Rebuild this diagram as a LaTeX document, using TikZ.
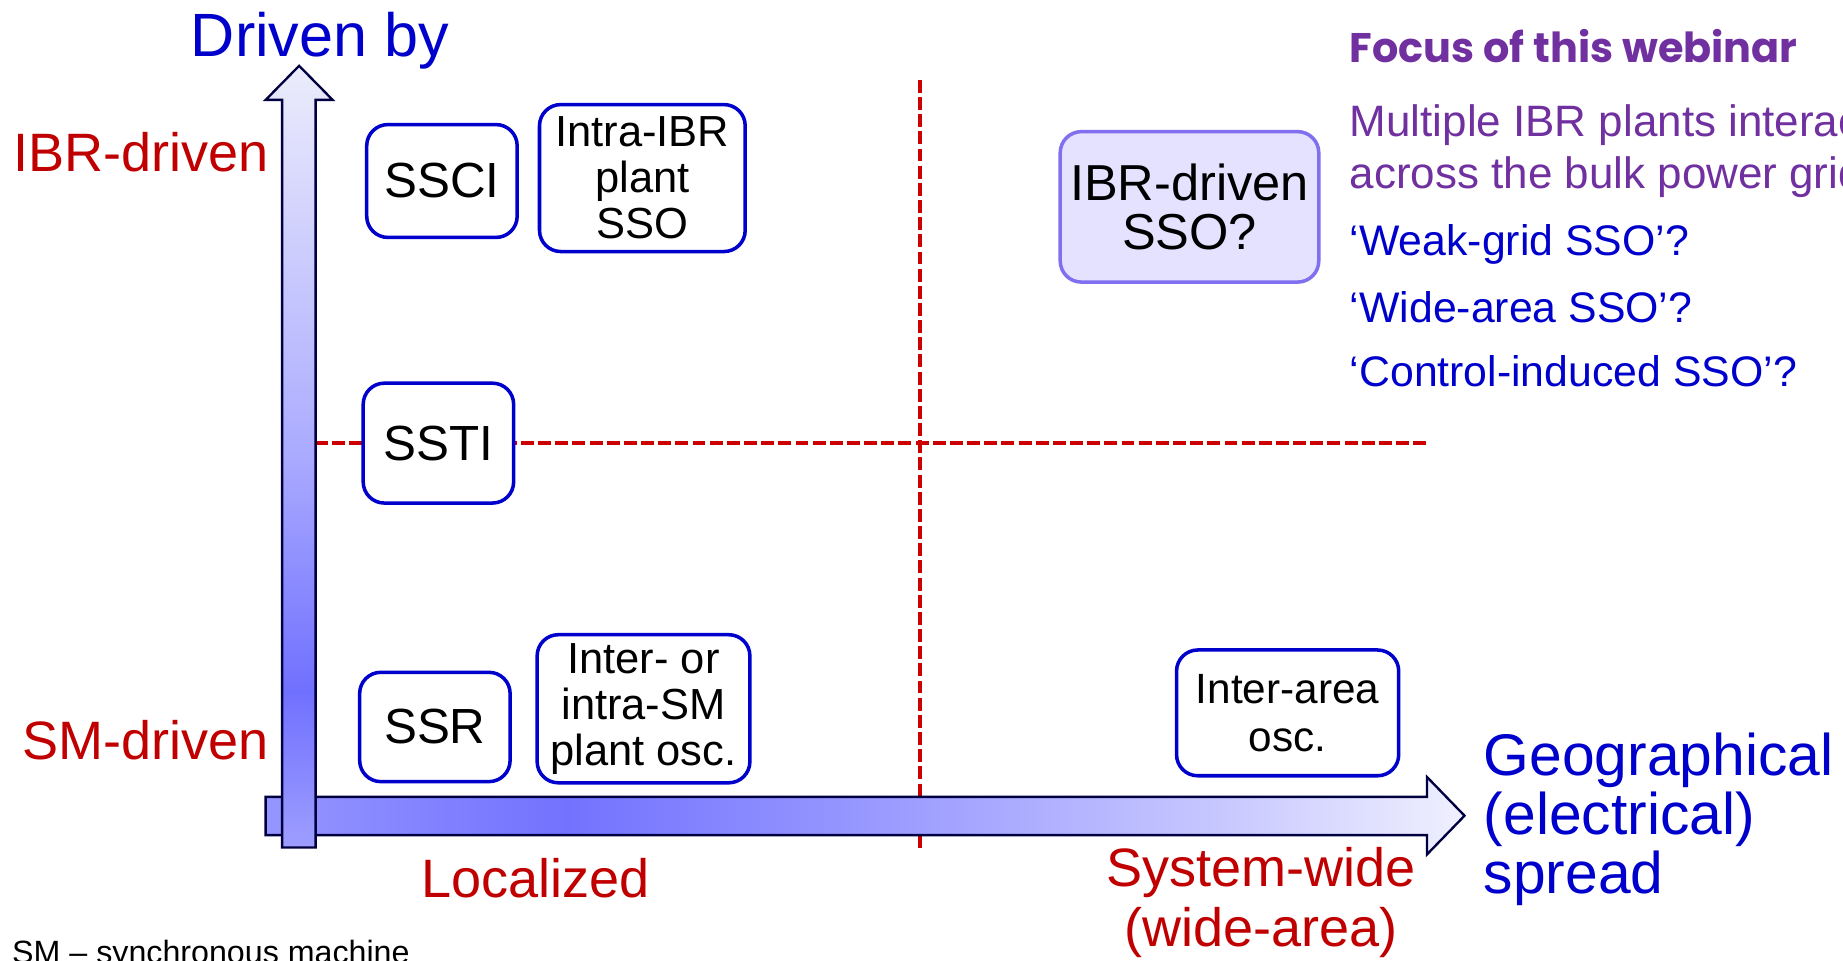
\documentclass[tikz,border=0pt]{standalone}
\usepackage{fontspec}
\setmainfont{Liberation Sans}
\newfontfamily\focusfont{Poppins}
\usepackage{tikz}
\usetikzlibrary{positioning}

\definecolor{sigred}{RGB}{192,0,0}
\definecolor{sigblue}{RGB}{0,0,204}
\definecolor{focuspurple}{RGB}{112,48,160}
\definecolor{oscblue}{RGB}{0,0,204}
\definecolor{ssofill}{RGB}{229,226,255}
\definecolor{ssoedge}{RGB}{128,112,240}
\definecolor{axisedge}{RGB}{0,0,64}
\definecolor{splitred}{RGB}{204,0,0}
% colours of the two axis arrows
\definecolor{vlow}{RGB}{158,158,255}
\definecolor{vdeep}{RGB}{112,112,255}
\definecolor{vmid}{RGB}{170,170,255}
\definecolor{vtop}{RGB}{236,236,252}
\definecolor{hleft}{RGB}{150,150,255}
\definecolor{hdeep}{RGB}{114,114,255}
\definecolor{hmid}{RGB}{158,158,255}
\definecolor{hpale}{RGB}{200,200,255}
\definecolor{htip}{RGB}{240,240,255}

\pgfdeclareverticalshading{drivenaxis}{100bp}{color(0bp)=(vlow); color(25bp)=(vlow);
  color(35bp)=(vdeep); color(50bp)=(vmid); color(75bp)=(vtop); color(100bp)=(vtop)}
\pgfdeclarehorizontalshading{spreadaxis}{100bp}{color(0bp)=(hleft); color(25bp)=(hleft);
  color(37.5bp)=(hdeep); color(52bp)=(hmid); color(65bp)=(hpale); color(75bp)=(htip);
  color(100bp)=(htip)}

\begin{document}
\begin{tikzpicture}[x=0.5pt,y=-0.5pt,every node/.style={inner sep=0pt},
                    one line/.style={font=\fontsize{21pt}{23pt}\selectfont},
                    three lines/.style={font=\fontsize{18.5pt}{19.5pt}\selectfont}]
  \tikzstyle{osc box}=[rectangle,draw=oscblue,line width=1.5pt,rounded corners=9pt,
                       fill=white,align=center]
  \tikzstyle{axis name}=[text=sigred,font=\fontsize{23pt}{25.5pt}\selectfont,align=center]
  \tikzstyle{split}=[draw=splitred,line width=1.6pt,dash pattern=on 5.5pt off 1.8pt]
  \tikzstyle{note}=[font=\fontsize{18.2pt}{22pt}\selectfont,align=left,anchor=base west]

  \useasboundingbox (0,0) rectangle (1568,817);
  \clip (0,0) rectangle (1568,817);

  % quadrant lines
  \coordinate (vsplit top) at (783,68);
  \coordinate (vsplit bot) at (783,722);
  \coordinate (hsplit left) at (268,377);
  \coordinate (hsplit right) at (1213,377);
  \draw[split] (vsplit top) -- (vsplit bot);
  \draw[split] (hsplit left) -- (hsplit right);

  % axes
  \shadedraw[shading=spreadaxis,draw=axisedge,line width=1pt]
    (226,678) -- (1214,678) -- (1214,661) -- (1246,694) -- (1214,727)
    -- (1214,710.5) -- (226,710.5) -- cycle;
  \shadedraw[shading=drivenaxis,draw=axisedge,line width=1pt]
    (240,721) -- (240,85) -- (226,85) -- (254.5,56) -- (283,85)
    -- (268.5,85) -- (268.5,721) -- cycle;

  \node[anchor=base west,text=sigblue,font=\fontsize{26pt}{28pt}\selectfont]
    (driven) at (162,48) {Driven by};
  \node[axis name,anchor=base east] (ibrdriven) at (229,146) {IBR-driven};
  \node[axis name,anchor=base east] (smdriven) at (229,646) {SM-driven};
  \node[axis name,anchor=base west] (local) at (358,764) {Localized};
  \node[axis name,anchor=base] (syswide) at (1073,805) {System-wide\\(wide-area)};
  \node[anchor=base west,align=left,text=sigblue,font=\fontsize{25pt}{25pt}\selectfont]
    (spread) at (1262,760) {Geographical\\(electrical)\\spread};

  % oscillation types
  \node[osc box,one line,minimum width=64pt,minimum height=48pt] (ssci) at (376,154) {SSCI};
  \node[osc box,three lines,minimum width=87.5pt,minimum height=62.5pt] (intraibr) at (546.5,151.5)
    {Intra-IBR\\plant\\SSO};
  \node[osc box,one line,minimum width=64pt,minimum height=51pt] (ssti) at (373,377) {SSTI};
  \node[osc box,one line,minimum width=64pt,minimum height=46.5pt] (ssr) at (370,618.5) {SSR};
  \node[osc box,three lines,minimum width=90.5pt,minimum height=63pt] (intersm) at (547.5,603)
    {Inter- or\\intra-SM\\plant osc.};
  \node[osc box,font=\fontsize{18pt}{20.5pt}\selectfont,minimum width=94.5pt,minimum height=53.5pt]
    (interarea) at (1095.5,606.5) {Inter-area\\osc.};
  \node[osc box,draw=ssoedge,fill=ssofill,font=\fontsize{21.5pt}{20.5pt}\selectfont,
        minimum width=110pt,minimum height=64pt] (ibrsso) at (1012,176) {IBR-driven\\SSO?};

  % webinar notes
  \node[anchor=base west,text=focuspurple,font=\focusfont\bfseries\fontsize{17.6pt}{19pt}\selectfont]
    (focus) at (1148,53) {Focus of this webinar};
  \node[note,text=focuspurple,font=\fontsize{18.7pt}{22pt}\selectfont] (multiple) at (1148,160)
    {Multiple IBR plants interacting\\across the bulk power grid};
  \node[note,text=sigblue] (weak) at (1148,217) {‘Weak-grid SSO’?};
  \node[note,text=sigblue] (wide) at (1148,274) {‘Wide-area SSO’?};
  \node[note,text=sigblue] (control) at (1148,329) {‘Control-induced SSO’?};

  \node[anchor=base west,font=\fontsize{13.7pt}{15pt}\selectfont] (smnote) at (10,820)
    {SM – synchronous machine};
\end{tikzpicture}
\end{document}
